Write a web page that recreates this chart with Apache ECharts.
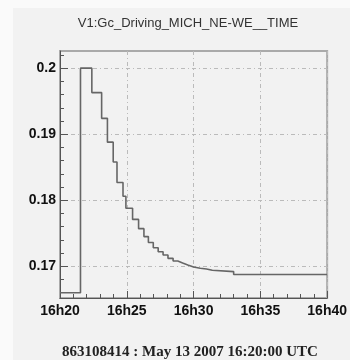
<!DOCTYPE html>
<html>
<head>
<meta charset="utf-8">
<script src="https://cdn.jsdelivr.net/npm/echarts@6/dist/echarts.min.js"></script>
<style>
  html, body { margin: 0; padding: 0; background: #fafafa; }
  #chart { width: 350px; height: 360px; }
</style>
</head>
<body>
<div id="chart"></div>
<script>
// Step start times in seconds after 16:20:00 UTC, and the level held from each one
const stepTimes = [0, 92, 143, 187, 213, 239, 256, 283, 296, 326, 353, 377, 397, 419, 441,
                   463, 485, 508, 529, 551, 574, 600, 630, 658, 684, 780, 1200];
const stepValues = [0.1660, 0.2000, 0.1963, 0.1924, 0.1888, 0.1858, 0.1827, 0.1806, 0.1788,
                    0.1771, 0.1757, 0.1745, 0.1736, 0.1728, 0.1722, 0.1717, 0.1712, 0.1708,
                    0.1705, 0.1702, 0.1699, 0.1697, 0.1696, 0.1694, 0.1692, 0.16875, 0.16875];

// Axis ticks
const yMajorTicks = [0.17, 0.18, 0.19, 0.2];
const yMinorTicks = [0.166, 0.168, 0.172, 0.174, 0.176, 0.178, 0.182, 0.184, 0.186, 0.188,
                     0.192, 0.194, 0.196, 0.198, 0.202];
const xTickLabels = ['16h20', '16h25', '16h30', '16h35', '16h40'];

const titleText = 'V1:Gc_Driving_MICH_NE-WE__TIME';
const footerText = '863108414 : May 13 2007 16:20:00 UTC';

const yMin = 0.1652, yMax = 0.2026;
const gridDash = [4, 3, 1, 3];
const labelFont = { fontFamily: 'Liberation Sans, Arial, sans-serif', fontWeight: 'bold', fontSize: 14, color: '#111' };

const chart = echarts.init(document.getElementById('chart'), null, { renderer: 'canvas' });

chart.setOption({
  animation: false,
  backgroundColor: '#fafafa',
  graphic: [
    { type: 'rect', z: -10, shape: { x: 13, y: 8, width: 337, height: 352 }, style: { fill: '#f2f2f2' } },
    { type: 'text', x: 188, y: 23,
      style: { text: titleText, textAlign: 'center', textVerticalAlign: 'middle',
               font: '13px "Liberation Sans", Arial, sans-serif', fill: '#333' } },
    { type: 'text', x: 190, y: 352,
      style: { text: footerText, textAlign: 'center', textVerticalAlign: 'middle',
               font: 'bold 15px "Liberation Serif", "Times New Roman", serif', fill: '#222' } }
  ],
  grid: {
    left: 60, top: 51, right: 18, bottom: 62,
    show: true, backgroundColor: '#f2f2f2', borderColor: '#aaaaaa', borderWidth: 2
  },
  xAxis: {
    type: 'value', min: 0, max: 1200, interval: 300,
    axisLine: { show: true, onZero: false, lineStyle: { color: '#555', width: 1 } },
    axisTick: { show: true, inside: true, length: 7, lineStyle: { color: '#555' } },
    minorTick: { show: true, splitNumber: 5, length: 4, lineStyle: { color: '#555' } },
    splitLine: { show: true, lineStyle: { color: '#bbbbbb', type: gridDash, width: 1 } },
    axisLabel: Object.assign({
      margin: 6, showMinLabel: true, showMaxLabel: true,
      formatter: v => xTickLabels[Math.round(v / 300)]
    }, labelFont)
  },
  yAxis: [
    {
      type: 'value', min: yMin, max: yMax,
      axisLine: { show: true, onZero: false, lineStyle: { color: '#555', width: 1 } },
      axisTick: { show: true, inside: true, length: 8, customValues: yMajorTicks, lineStyle: { color: '#555' } },
      splitLine: { show: true, lineStyle: { color: '#bbbbbb', type: gridDash, width: 1 } },
      axisLabel: Object.assign({
        margin: 4, customValues: yMajorTicks,
        formatter: v => String(+(+v).toFixed(2))
      }, labelFont)
    },
    {
      type: 'value', min: yMin, max: yMax, position: 'left',
      axisLine: { show: false },
      axisTick: { show: true, inside: true, length: 4, customValues: yMinorTicks, lineStyle: { color: '#555' } },
      splitLine: { show: false },
      axisLabel: { show: false }
    }
  ],
  series: [{
    type: 'line',
    step: 'end',
    yAxisIndex: 0,
    symbol: 'none',
    data: stepTimes.map((t, i) => [t, stepValues[i]]),
    lineStyle: { color: '#666666', width: 1.6 }
  }]
});
</script>
</body>
</html>
